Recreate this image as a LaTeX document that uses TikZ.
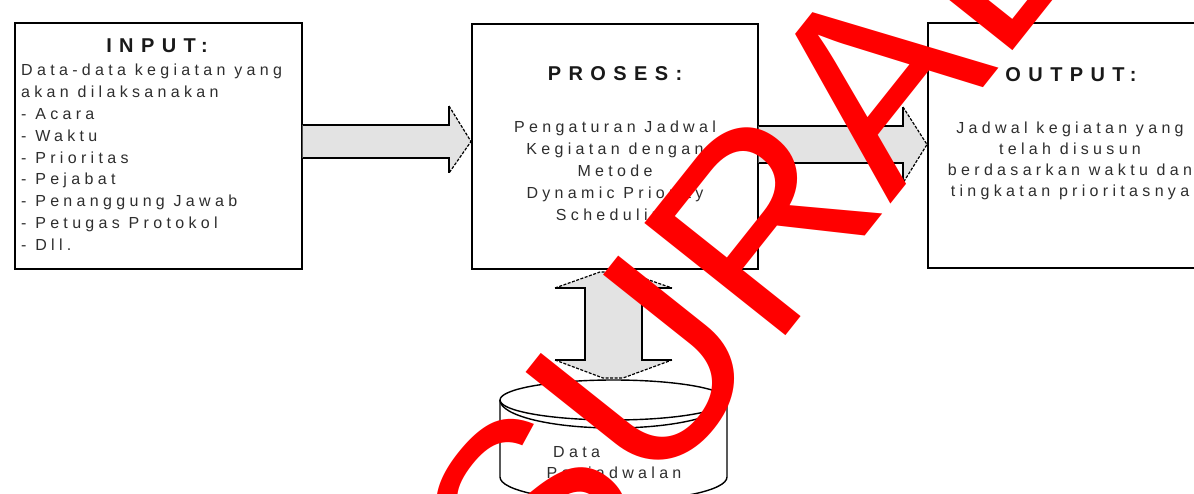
\documentclass[tikz,border=0pt]{standalone}
\usepackage{fontspec}
\setmainfont{Liberation Sans}
\newfontfamily\bodyfont{Liberation Sans}[LetterSpace=27]
\newfontfamily\titlefont{Liberation Sans}[LetterSpace=37]
\newfontfamily\wmfont{Liberation Sans}
\definecolor{wmred}{RGB}{255,0,0}
\begin{document}
\begin{tikzpicture}[x=1pt,y=-1pt,
  box/.style={draw=black,line width=1.6pt,fill=white,inner sep=0pt},
  body/.style={font=\bodyfont\fontsize{16}{22}\selectfont,text=black!82,inner sep=0pt},
  title/.style={font=\titlefont\bfseries\fontsize{20}{22}\selectfont,text=black!90,inner sep=0pt},
  afill/.style={fill=black!11,draw=none},
  aline/.style={line width=1.4pt,draw=black},
  ahead/.style={line width=1.2pt,draw=black,dash pattern=on 3pt off 1.5pt},
  dbline/.style={line width=1.4pt,draw=black},
  wm/.style={font=\wmfont\fontsize{262}{262}\selectfont,text=wmred,inner sep=0pt},
]
\useasboundingbox (0,0) rectangle (1194,494);
\clip (0,0) rectangle (1194,494);
\fill[white] (0,0) rectangle (1194,494);

% boxes
\node[box,minimum width=287pt,minimum height=246pt,anchor=north west] (input) at (14,22) {};
\node[box,minimum width=286pt,minimum height=245pt,anchor=north west] (proses) at (471,23) {};
\node[box,minimum width=290pt,minimum height=245pt,anchor=north west] (output) at (927,22) {};

% arrow input -> proses
\fill[afill] (input.east |- 0,125) -- (449,125) -- (449,106) -- (proses.west |- 0,141.5) -- (449,173) -- (449,158) -- (input.east |- 0,158) -- cycle;
\draw[aline] (input.east |- 0,125) -- (449,125) -- (449,106);
\draw[aline] (input.east |- 0,158) -- (449,158) -- (449,173);
\draw[ahead] (449,106) -- (proses.west |- 0,141.5) -- (449,173);

% arrow proses -> output
\fill[afill] (proses.east |- 0,126) -- (903,126) -- (903,107) -- (output.west |- 0,144.5) -- (903,183) -- (903,163) -- (proses.east |- 0,163) -- cycle;
\draw[aline] (proses.east |- 0,126) -- (903,126) -- (903,107);
\draw[aline] (proses.east |- 0,163) -- (903,163) -- (903,183);
\draw[ahead] (903,107) -- (output.west |- 0,144.5) -- (903,183);

% database cylinder
\coordinate (db) at (613.5,440);
\filldraw[dbline,fill=white] (500,400) -- (500,477)
  .. controls (500,490.3) and (550.8,501) .. (613.5,501)
  .. controls (676.2,501) and (727,490.3) .. (727,477) -- (727,400);
\filldraw[dbline,fill=white] (613.5,400) ellipse [x radius=113.5, y radius=20];
\draw[dbline] (500,400) .. controls (500,415.5) and (550.8,428) .. (613.5,428)
  .. controls (676.2,428) and (727,415.5) .. (727,400);

% double arrow proses <-> database
\fill[afill] (585,288) -- (555,288) -- (600,272) -- (626,272) -- (672,288) -- (642,288) -- (642,360) -- (672,360) -- (623,378) -- (603,378) -- (555,360) -- (585,360) -- cycle;
\draw[aline] (555,288) -- (585,288) -- (585,360) -- (555,360);
\draw[aline] (672,288) -- (642,288) -- (642,360) -- (672,360);
\draw[ahead] (555,288) -- (600,272) -- (626,272) -- (672,288);
\draw[ahead] (555,360) -- (603,378) -- (623,378) -- (672,360);

% INPUT text
\node[title,anchor=base] (inT) at (157,53) {INPUT:};
\foreach \t [count=\i from 0] in {Data-data kegiatan yang,akan dilaksanakan,- Acara,- Waktu,- Prioritas,- Pejabat,- Penanggung Jawab,- Petugas Protokol,- Dll.}
  \node[body,anchor=base west] (in\i) at (21,76+21.8*\i) {\t};

% PROSES text
\node[title,anchor=base] (prT) at (615,81) {PROSES:};
\foreach \t [count=\i from 0] in {Pengaturan Jadwal,Kegiatan dengan,Metode,Dynamic Priority,Scheduling}
  \node[body,anchor=base] (pr\i) at (615,133+21.9*\i) {\t};

% OUTPUT text
\node[title,anchor=base] (ouT) at (1071,82) {OUTPUT:};
\foreach \t [count=\i from 0] in {Jadwal kegiatan yang,telah disusun,berdasarkan waktu dan,tingkatan prioritasnya}
  \node[body,anchor=base] (ou\i) at (1070,134+21*\i) {\t};

% database text
\node[body,anchor=base west] (db1) at (553,457) {Data};
\node[body,anchor=base] (db2) at (614,478) {Penjadwalan};

% watermark
\node[wm,rotate=51.5,anchor=base west] (wm) at (546,637) {SURABAYA};
\end{tikzpicture}
\end{document}
